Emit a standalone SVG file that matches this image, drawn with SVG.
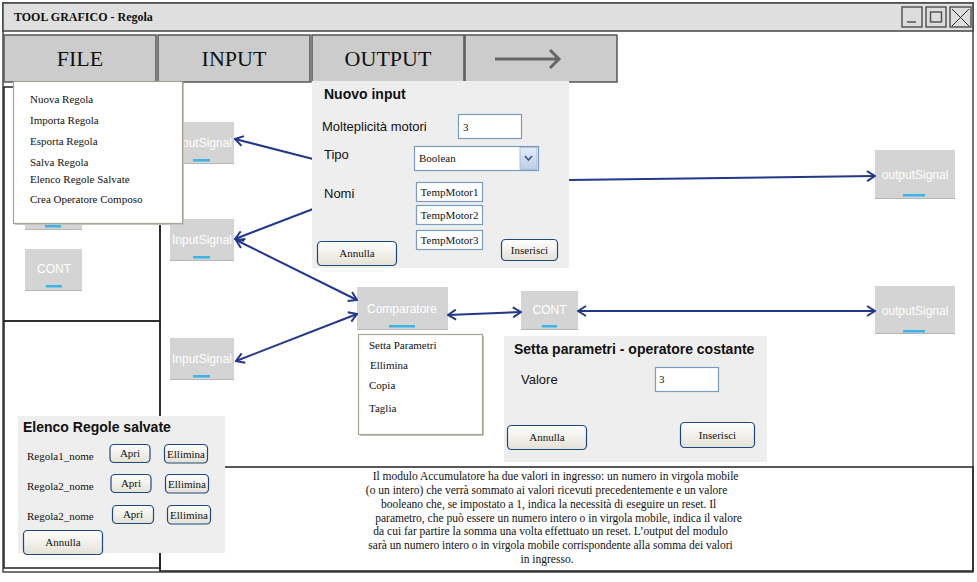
<svg xmlns="http://www.w3.org/2000/svg" width="977" height="582" viewBox="0 0 977 582">
<defs>
<style>
.sans{font-family:"Liberation Sans",Arial,sans-serif}
.serif{font-family:"Liberation Serif","Times New Roman",serif}
.tab{fill:#cccccc;stroke:#555;stroke-width:1.5}
.tabt{font-family:"Liberation Serif","Times New Roman",serif;font-size:22px;fill:#111;text-anchor:middle}
.node{fill:#d4d4d4}
.nshadow{fill:#b5b5b5}
.nt{font-family:"Liberation Sans",Arial,sans-serif;font-size:12px;fill:#fff;text-anchor:middle}
.bar{fill:#3bb4e6}
.frame{fill:none;stroke:#222;stroke-width:1.5}
.dlg{fill:#eeeeee}
.dtitle{font-family:"Liberation Sans",Arial,sans-serif;font-size:14px;font-weight:bold;fill:#111}
.dlabel{font-family:"Liberation Sans",Arial,sans-serif;font-size:13px;fill:#111}
.field{fill:#fff;stroke:#7a9cc0;stroke-width:1.2}
.ft{font-family:"Liberation Serif","Times New Roman",serif;font-size:11px;fill:#111}
.btn{fill:url(#bg);stroke:#1d4a7e;stroke-width:1.2}
.bt{font-family:"Liberation Serif","Times New Roman",serif;font-size:11px;fill:#111;text-anchor:middle}
.menu{fill:#fff;stroke:#a8a495;stroke-width:1.2}
.mi{font-family:"Liberation Serif","Times New Roman",serif;font-size:11px;fill:#111}
.conn{fill:none;stroke:#22388a;stroke-width:2;marker-end:url(#ah)}
.conn2{fill:none;stroke:#22388a;stroke-width:2;marker-end:url(#ah);marker-start:url(#ah)}
.wb{fill:#dddddd;stroke:#555;stroke-width:1.5}
</style>
<linearGradient id="bg" x1="0" y1="0" x2="0" y2="1">
<stop offset="0" stop-color="#ffffff"/>
<stop offset="1" stop-color="#e4e1d6"/>
</linearGradient>
<linearGradient id="dd" x1="0" y1="0" x2="0" y2="1">
<stop offset="0" stop-color="#e4ecf7"/>
<stop offset="1" stop-color="#bccde6"/>
</linearGradient>
<marker id="ah" viewBox="0 0 10 12" refX="9" refY="6" markerWidth="10" markerHeight="12" markerUnits="userSpaceOnUse" orient="auto-start-reverse">
<path d="M1,1 L9,6 L1,11" fill="none" stroke="#22388a" stroke-width="2"/>
</marker>
</defs>

<!-- window -->
<g id="window">
<rect x="0" y="0" width="977" height="582" fill="#fff"/>
<rect x="3" y="3" width="970" height="569" fill="#fff" stroke="#444" stroke-width="1.5"/>
<rect x="3" y="3" width="970" height="28" fill="#dfdfdf" stroke="#444" stroke-width="1.5"/>
<text x="14" y="21" class="serif" font-size="12" font-weight="bold" fill="#111">TOOL GRAFICO - Regola</text>
<rect x="902" y="7" width="20" height="20" class="wb"/>
<line x1="907" y1="22" x2="916" y2="22" stroke="#555" stroke-width="1.5"/>
<rect x="926" y="7" width="20" height="20" class="wb"/>
<rect x="930.5" y="12" width="11" height="10" fill="none" stroke="#555" stroke-width="1.5"/>
<rect x="950" y="7" width="21" height="20" class="wb"/>
<path d="M952,9 L969,26 M969,9 L952,26" stroke="#333" stroke-width="1"/>
</g>

<!-- menu tabs -->
<g id="tabs">
<rect x="4" y="35" width="152" height="47" class="tab"/>
<text x="80" y="66" class="tabt">FILE</text>
<rect x="158" y="35" width="152" height="47" class="tab"/>
<text x="234" y="66" class="tabt">INPUT</text>
<rect x="312" y="35" width="152" height="47" class="tab"/>
<text x="388" y="66" class="tabt">OUTPUT</text>
<rect x="465" y="35" width="152" height="47" class="tab"/>
<path d="M495,59 L558,59 M550,50 L559,59 L550,68" fill="none" stroke="#666" stroke-width="3"/>
</g>

<!-- frames -->
<g id="frames">
<rect x="4" y="87" width="156" height="234" class="frame"/>
<rect x="4" y="321" width="156" height="247" class="frame"/>
<line x1="160" y1="87" x2="160" y2="571" stroke="#222" stroke-width="1.5"/>
<rect x="160" y="467" width="813" height="104" class="frame"/>
</g>

<!-- description text -->
<g id="description">
<text class="serif" font-size="11.5" fill="#111" text-anchor="middle">
<tspan x="557" y="480">Il modulo Accumulatore ha due valori in ingresso: un numero in virgola mobile</tspan>
<tspan x="548" y="494">(o un intero) che verrà sommato ai valori ricevuti precedentemente e un valore</tspan>
<tspan x="550" y="508">booleano che, se impostato a 1, indica la necessità di eseguire un reset. Il</tspan>
<tspan x="560" y="522">parametro, che può essere un numero intero o in virgola mobile, indica il valore</tspan>
<tspan x="552" y="535">da cui far partire la somma una volta effettuato un reset. L’output del modulo</tspan>
<tspan x="552" y="549">sarà un numero intero o in virgola mobile corrispondente alla somma dei valori</tspan>
<tspan x="547" y="563">in ingresso.</tspan>
</text>
</g>

<!-- nodes -->
<g id="node-left-hidden">
<rect x="25" y="189" width="57" height="41" class="nshadow"/>
<rect x="25" y="188" width="57" height="41" class="node"/>
<rect x="45" y="225" width="16" height="2.5" class="bar"/>
</g>
<g id="node-left-cont">
<rect x="25" y="250" width="57" height="41" class="nshadow"/>
<rect x="25" y="249" width="57" height="41" class="node"/>
<text x="54" y="273" class="nt">CONT</text>
<rect x="46" y="285" width="16" height="2.5" class="bar"/>
</g>
<g id="node-input1">
<rect x="170" y="123" width="64" height="41" class="nshadow"/>
<rect x="170" y="122" width="64" height="41" class="node"/>
<text x="202" y="147" class="nt">InputSignal</text>
<rect x="193" y="159" width="17" height="2.5" class="bar"/>
</g>
<g id="node-input2">
<rect x="170" y="220" width="64" height="41" class="nshadow"/>
<rect x="170" y="219" width="64" height="41" class="node"/>
<text x="202" y="244" class="nt">InputSignal</text>
<rect x="193" y="256" width="17" height="2.5" class="bar"/>
</g>
<g id="node-input3">
<rect x="170" y="339" width="64" height="41" class="nshadow"/>
<rect x="170" y="338" width="64" height="41" class="node"/>
<text x="202" y="363" class="nt">InputSignal</text>
<rect x="193" y="375" width="17" height="2.5" class="bar"/>
</g>
<g id="node-comparatore">
<rect x="357" y="288" width="91" height="42" class="nshadow"/>
<rect x="357" y="287" width="91" height="42" class="node"/>
<text x="402" y="313" class="nt">Comparatore</text>
<rect x="389" y="325" width="26" height="2.5" class="bar"/>
</g>
<g id="node-cont">
<rect x="521" y="292" width="57" height="38" class="nshadow"/>
<rect x="521" y="291" width="57" height="38" class="node"/>
<text x="549.5" y="314" class="nt">CONT</text>
<rect x="542" y="325" width="15" height="2.5" class="bar"/>
</g>
<g id="node-output1">
<rect x="875" y="151" width="80" height="48" class="nshadow"/>
<rect x="875" y="150" width="80" height="48" class="node"/>
<text x="915" y="179" class="nt">outputSignal</text>
<rect x="903" y="194" width="22" height="2.5" class="bar"/>
</g>
<g id="node-output2">
<rect x="875" y="287" width="80" height="47" class="nshadow"/>
<rect x="875" y="286" width="80" height="47" class="node"/>
<text x="915" y="315" class="nt">outputSignal</text>
<rect x="903" y="330" width="22" height="2.5" class="bar"/>
</g>

<!-- connectors -->
<g id="connectors">
<line x1="313" y1="159" x2="235" y2="139" class="conn"/>
<line x1="313" y1="209" x2="235" y2="239" class="conn"/>
<line x1="236" y1="240" x2="357" y2="300" class="conn2"/>
<line x1="236" y1="361" x2="357" y2="314" class="conn2"/>
<line x1="448" y1="315" x2="521" y2="312" class="conn2"/>
<line x1="578" y1="311" x2="875" y2="311" class="conn2"/>
<line x1="569" y1="180" x2="875" y2="176" class="conn"/>
</g>

<!-- Nuovo input dialog -->
<g id="dialog-nuovo-input">
<rect x="312" y="81" width="257" height="187" class="dlg"/>
<text x="324" y="99" class="dtitle">Nuovo input</text>
<text x="322" y="131" class="dlabel">Molteplicità motori</text>
<rect x="458.5" y="114.5" width="63" height="24" class="field"/>
<text x="463" y="131" class="ft">3</text>
<text x="324" y="159" class="dlabel">Tipo</text>
<rect x="414.5" y="146.5" width="124" height="24" class="field"/>
<text x="419" y="162" class="ft">Boolean</text>
<rect x="520" y="147.5" width="17" height="22" fill="url(#dd)" stroke="#9fb6d6" stroke-width="0.8"/>
<path d="M525,156 L528.5,160 L532,156" fill="none" stroke="#3a5a86" stroke-width="1.6"/>
<text x="324" y="198" class="dlabel">Nomi</text>
<rect x="416.5" y="182.5" width="66" height="19" class="field"/>
<text x="449.5" y="196" class="bt">TempMotor1</text>
<rect x="416.5" y="205.5" width="66" height="19" class="field"/>
<text x="449.5" y="219" class="bt">TempMotor2</text>
<rect x="416.5" y="230.5" width="66" height="19" class="field"/>
<text x="449.5" y="244" class="bt">TempMotor3</text>
<rect x="317.5" y="241.5" width="79" height="24" rx="4" class="btn"/>
<text x="357" y="257" class="bt">Annulla</text>
<rect x="501.5" y="239.5" width="56" height="21" rx="4" class="btn"/>
<text x="529.5" y="254" class="bt">Inserisci</text>
</g>

<!-- context menu -->
<g id="context-menu">
<rect x="360" y="336" width="124" height="100" fill="#c8c6bd"/>
<rect x="358.5" y="334.5" width="124" height="100" class="menu"/>
<text x="369" y="349" class="mi">Setta Parametri</text>
<text x="370" y="369" class="mi">Ellimina</text>
<text x="369" y="389" class="mi">Copia</text>
<text x="369" y="412" class="mi">Taglia</text>
</g>

<!-- Setta parametri dialog -->
<g id="dialog-setta-parametri">
<rect x="504" y="336" width="263" height="126" class="dlg"/>
<text x="514" y="354" class="dtitle">Setta parametri - operatore costante</text>
<text x="521" y="384" class="dlabel">Valore</text>
<rect x="655.5" y="367.5" width="63" height="24" class="field"/>
<text x="659" y="383" class="ft">3</text>
<rect x="507.5" y="425.5" width="79" height="24" rx="4" class="btn"/>
<text x="547" y="441" class="bt">Annulla</text>
<rect x="680.5" y="422.5" width="74" height="25" rx="4" class="btn"/>
<text x="717.5" y="439" class="bt">Inserisci</text>
</g>

<!-- Elenco regole salvate -->
<g id="dialog-elenco-regole">
<rect x="18" y="416" width="207" height="137" class="dlg"/>
<text x="23" y="432" class="dtitle">Elenco Regole salvate</text>
<text x="27" y="460" class="ft">Regola1_nome</text>
<text x="27" y="490" class="ft">Regola2_nome</text>
<text x="27" y="520" class="ft">Regola2_nome</text>
<rect x="110" y="444.5" width="40" height="18" rx="4" class="btn"/>
<text x="130" y="457" class="bt">Apri</text>
<rect x="164.5" y="444.5" width="43" height="18.5" rx="4" class="btn"/>
<text x="186" y="458" class="bt">Ellimina</text>
<rect x="111" y="474.5" width="40" height="18" rx="4" class="btn"/>
<text x="131" y="487" class="bt">Apri</text>
<rect x="165.5" y="474.5" width="43" height="18.5" rx="4" class="btn"/>
<text x="187" y="488" class="bt">Ellimina</text>
<rect x="112.5" y="505.5" width="41" height="18" rx="4" class="btn"/>
<text x="133" y="518" class="bt">Apri</text>
<rect x="167.5" y="505.5" width="43" height="18.5" rx="4" class="btn"/>
<text x="189" y="519" class="bt">Ellimina</text>
<rect x="23.5" y="530.5" width="79" height="24" rx="4" class="btn"/>
<text x="63" y="546" class="bt">Annulla</text>
</g>

<!-- FILE dropdown -->
<g id="file-menu">
<rect x="15" y="83" width="169" height="142" fill="#c8c6bd"/>
<rect x="13.5" y="81.5" width="169" height="142" class="menu"/>
<text x="30" y="103" class="mi">Nuova Regola</text>
<text x="30" y="124" class="mi">Importa Regola</text>
<text x="30" y="145" class="mi">Esporta Regola</text>
<text x="30" y="166" class="mi">Salva Regola</text>
<text x="30" y="183" class="mi">Elenco Regole Salvate</text>
<text x="30" y="203" class="mi">Crea Operatore Composo</text>
</g>
</svg>
